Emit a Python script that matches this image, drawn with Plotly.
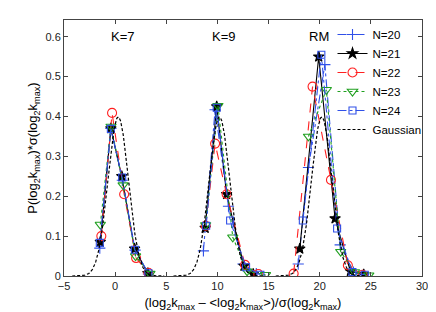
import numpy as np
import plotly.graph_objects as go

# ---- data ----
series_names = ["N=20", "N=21", "N=22", "N=23", "N=24"]

# each series: three groups (K=7, K=9, RM); x positions and y values
x_n20 = [[-1.5, -0.42, 0.7, 1.95, 3.25], [8.63, 9.77, 11.08, 12.5, 13.8], [17.9, 18.9, 20.5, 22.0, 23.3, 24.3]]
y_n20 = [[0.07, 0.37, 0.24, 0.065, 0.005], [0.063, 0.417, 0.175, 0.03, 0.006], [0.03, 0.272, 0.53, 0.078, 0.01, 0.003]]

x_n21 = [[-1.45, -0.42, 0.65, 1.9, 3.2], [8.8, 9.93, 10.9, 12.6, 13.5], [18.05, 19.9, 21.5, 23.0, 24.3]]
y_n21 = [[0.085, 0.37, 0.25, 0.068, 0.007], [0.12, 0.425, 0.205, 0.025, 0.005], [0.068, 0.55, 0.144, 0.012, 0.004]]

x_n22 = [[-1.35, -0.3, 0.88, 2.05, 3.25], [8.85, 9.77, 10.9, 12.7, 14.0], [17.45, 19.3, 21.1, 22.75, 24.2]]
y_n22 = [[0.10, 0.409, 0.205, 0.045, 0.008], [0.126, 0.332, 0.205, 0.028, 0.005], [0.006, 0.475, 0.241, 0.027, 0.003]]

x_n23 = [[-1.45, -0.4, 0.78, 2.0, 3.4], [8.85, 10.05, 11.5, 12.9, 14.7], [18.9, 20.65, 22.05, 23.4, 24.8]]
y_n23 = [[0.129, 0.375, 0.228, 0.05, 0.006], [0.128, 0.427, 0.097, 0.012, 0.003], [0.35, 0.467, 0.061, 0.01, 0.002]]

x_n24 = [[-1.5, -0.42, 0.69, 1.93, 3.25], [8.9, 9.93, 11.24, 12.8, 14.2], [18.35, 20.16, 21.7, 23.2, 24.4]]
y_n24 = [[0.083, 0.369, 0.247, 0.066, 0.007], [0.126, 0.422, 0.139, 0.022, 0.003], [0.139, 0.555, 0.119, 0.01, 0.003]]

gauss_centers = [0.3, 10.2, 20.2]
gauss_sigma = 1.0

group_labels = ["K=7", "K=9", "RM"]
group_label_x = [0.8, 10.6, 19.9]
group_label_y = 0.6

x_ticks = [-5, 0, 5, 10, 15, 20, 25, 30]
y_ticks = [0, 0.1, 0.2, 0.3, 0.4, 0.5, 0.6]

# ---- styles ----
styles = [
    dict(color="#3050e8", dash="dashdot", symbol="cross-thin", size=8),
    dict(color="#000000", dash="solid", symbol="star", size=8),
    dict(color="#ff2020", dash="dash", symbol="circle-open", size=9),
    dict(color="#20a020", dash="dot", symbol="triangle-down-open", size=9),
    dict(color="#3050e8", dash="dashdot", symbol="square-open", size=7),
]

def join(groups):
    out = []
    for i, g in enumerate(groups):
        if i:
            out.append(None)
        out.extend(g)
    return out

all_x = [x_n20, x_n21, x_n22, x_n23, x_n24]
all_y = [y_n20, y_n21, y_n22, y_n23, y_n24]

fig = go.Figure()
for name, xs, ys, st in zip(series_names, all_x, all_y, styles):
    fig.add_trace(go.Scatter(
        x=join(xs), y=join(ys), name=name, mode="lines+markers",
        line=dict(color=st["color"], dash=st["dash"], width=1.1),
        marker=dict(symbol=st["symbol"], size=st["size"], color=st["color"],
                    line=dict(color=st["color"], width=1.1)),
        connectgaps=False,
    ))

gx, gy = [], []
for i, c in enumerate(gauss_centers):
    xx = np.linspace(c - 4.5, c + 4.5, 200)
    yy = np.exp(-0.5 * ((xx - c) / gauss_sigma) ** 2) / (gauss_sigma * np.sqrt(2 * np.pi))
    if i:
        gx.append(None); gy.append(None)
    gx.extend(xx.tolist()); gy.extend(yy.tolist())
fig.add_trace(go.Scatter(x=gx, y=gy, name="Gaussian", mode="lines",
                         line=dict(color="black", dash="3px,2px", width=1.2)))

for lab, lx in zip(group_labels, group_label_x):
    fig.add_annotation(x=lx, y=group_label_y, text=lab, showarrow=False,
                       font=dict(size=13, color="black"))

axis_common = dict(showline=True, linecolor="#444", linewidth=1, mirror="ticks",
                   ticks="inside", ticklen=4, tickcolor="#444", showgrid=False,
                   zeroline=False, tickfont=dict(size=11, color="#222"))

fig.update_layout(
    width=436, height=312,
    margin=dict(l=56, r=22, t=12, b=44, autoexpand=False),
    paper_bgcolor="white", plot_bgcolor="white",
    font=dict(family="Liberation Sans, Arial, sans-serif", color="black"),
    xaxis=dict(range=[-5, 30], tickvals=x_ticks,
               title=dict(text="(log<sub>2</sub>k<sub>max</sub> – &lt;log<sub>2</sub>k<sub>max</sub>&gt;)/σ(log<sub>2</sub>k<sub>max</sub>)",
                          font=dict(size=13), standoff=6),
               **axis_common),
    yaxis=dict(range=[0, 0.642], tickvals=y_ticks, ticktext=["0", "0.1", "0.2", "0.3", "0.4", "0.5", "0.6"],
               title=dict(text="P(log<sub>2</sub>k<sub>max</sub>)*σ(log<sub>2</sub>k<sub>max</sub>)",
                          font=dict(size=13), standoff=4),
               **axis_common),
    legend=dict(x=0.75, y=1.0, xanchor="left", yanchor="top",
                bgcolor="rgba(0,0,0,0)", borderwidth=0, font=dict(size=11.5),
                itemwidth=30, tracegroupgap=0),
    showlegend=True,
)

fig.write_html("out.html")
